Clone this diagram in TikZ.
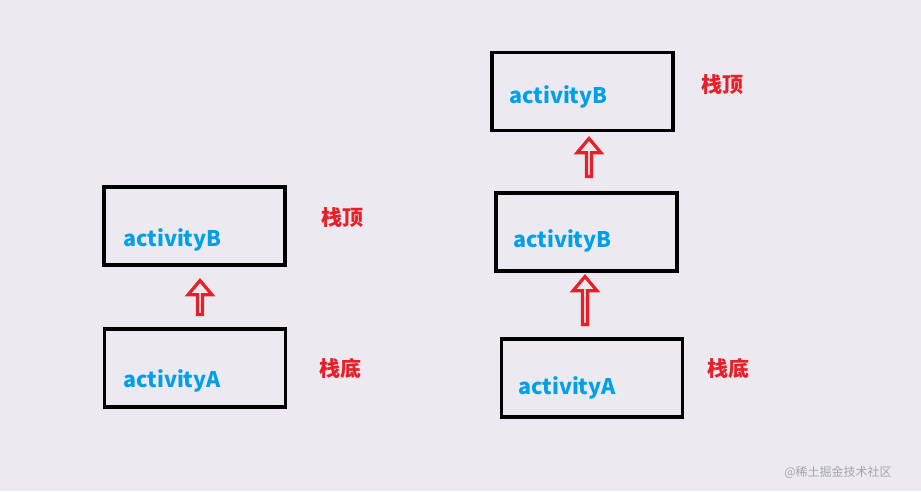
\documentclass[tikz,border=0pt]{standalone}
\usepackage{fontspec}
\setmainfont{Noto Sans CJK SC}
\usetikzlibrary{shapes.arrows}
\definecolor{bg}{RGB}{236,234,240}
\definecolor{actblue}{RGB}{0,160,232}
\definecolor{lblred}{RGB}{232,30,40}
\tikzset{
 box/.style={draw=black,line width=3.5pt,minimum width=181pt,minimum height=78pt,inner sep=0pt},
 act/.style={text=actblue,font=\bfseries\fontsize{21.5}{24}\selectfont,anchor=west,inner sep=0pt},
 lbl/.style={text=lblred,font=\bfseries\fontsize{21}{24}\selectfont},
 uparrow/.style={single arrow,draw=lblred,line width=3.2pt,fill=none,shape border rotate=90,single arrow head extend=6pt,minimum width=24pt,inner sep=0pt,single arrow tip angle=80},
}
\begin{document}
\begin{tikzpicture}[x=1pt,y=-1pt]
\fill[bg] (0,0) rectangle (921,491);
\useasboundingbox (0,0) rectangle (921,491);
% left stack
\node[box] (lb) at (194.5,226) {};
\node[box] (la) at (195,368) {};
\node[act] at (123,240) {activityB};
\node[act] at (123,381) {activityA};
\node[lbl] (lt1) at (342,218) {栈顶};
\node[lbl] (lt2) at (340,368) {栈底};
\node[uparrow,minimum height=34pt] (ar1) at (200,299) {};
% right stack
\node[box] (rb2) at (582.5,91.5) {};
\node[box] (rb1) at (586.5,232) {};
\node[box] (ra) at (592,378) {};
\node[act] at (509,97) {activityB};
\node[act] at (513,241) {activityB};
\node[act] at (518,388) {activityA};
\node[lbl] (rt1) at (722,85) {栈顶};
\node[lbl] (rt2) at (728,368) {栈底};
\node[uparrow,minimum height=38pt] (ar2) at (589,159) {};
\node[uparrow,minimum height=48pt] (ar3) at (585,302) {};
\node[text=black!35,font=\fontsize{12}{14}\selectfont] (wm) at (838,472) {@稀土掘金技术社区};
\end{tikzpicture}
\end{document}
